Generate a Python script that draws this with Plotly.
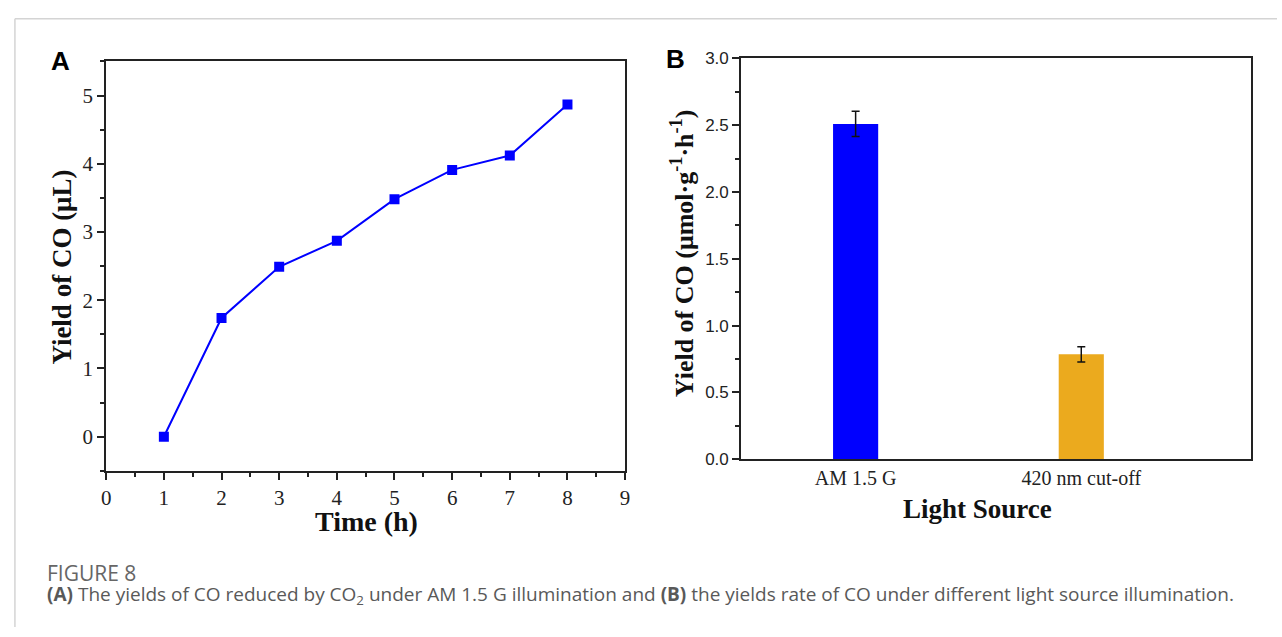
import plotly.graph_objects as go

# Panel A data
time_h = [1, 2, 3, 4, 5, 6, 7, 8]
yield_co = [0.0, 1.74, 2.49, 2.87, 3.48, 3.91, 4.12, 4.87]

# Panel B data
light_sources = ["AM 1.5 G", "420 nm cut-off"]
rate_co = [2.51, 0.785]
rate_err = [0.095, 0.057]
bar_colors = ["#0000FF", "#EBAA1E"]
bar_pos = [0, 1]

W, H = 1282, 637
def px(x):
    return x / W
def py(y):
    return 1 - y / H

fig = go.Figure()

fig.add_trace(go.Scatter(
    x=time_h, y=yield_co, mode="lines+markers",
    line=dict(color="#0000FF", width=2),
    marker=dict(symbol="square", size=10, color="#0000FF"),
    xaxis="x", yaxis="y", showlegend=False))

fig.add_trace(go.Bar(
    x=bar_pos, y=rate_co, width=0.2,
    marker=dict(color=bar_colors, line=dict(width=0)),
    error_y=dict(type="data", array=rate_err, visible=True,
                 color="#111111", thickness=1.5, width=4),
    xaxis="x2", yaxis="y2", showlegend=False))

serif = "Liberation Serif, Times New Roman, serif"
sans = "Liberation Sans, Arial, sans-serif"
axcol = "#222222"

def ann(text, x, y, size, family, color="#111", angle=0, xanchor="center"):
    return dict(text=text, x=px(x), y=py(y), xref="paper", yref="paper",
                xanchor=xanchor, yanchor="middle", textangle=angle,
                showarrow=False, font=dict(family=family, size=size, color=color))

fig.update_layout(
    width=W, height=H,
    margin=dict(l=0, r=0, t=0, b=0),
    paper_bgcolor="white", plot_bgcolor="white",
    xaxis=dict(domain=[px(102), px(625)], range=[0, 9], anchor="y",
               tickmode="array", tickvals=list(range(10)),
               ticks="outside", ticklen=7, tickwidth=2, tickcolor=axcol,
               minor=dict(ticks="outside", ticklen=4, tickwidth=2, tickcolor=axcol, dtick=0.5),
               showline=True, linecolor=axcol, linewidth=2, mirror=True,
               showgrid=False, zeroline=False,
               tickfont=dict(family=serif, size=21, color="#222")),
    yaxis=dict(domain=[py(476), py(54)], range=[-0.5, 5.5], anchor="x",
               tickmode="array", tickvals=[0, 1, 2, 3, 4, 5],
               ticks="outside", ticklen=7, tickwidth=2, tickcolor=axcol,
               minor=dict(ticks="outside", ticklen=4, tickwidth=2, tickcolor=axcol, dtick=0.5),
               showline=True, linecolor=axcol, linewidth=2, mirror=True,
               showgrid=False, zeroline=False,
               tickfont=dict(family=serif, size=21, color="#222")),
    xaxis2=dict(domain=[px(742), px(1256)], range=[-0.507, 1.753], anchor="y2",
                tickmode="array", tickvals=bar_pos, ticktext=light_sources,
                ticks="", showline=True, linecolor=axcol, linewidth=2, mirror=True,
                showgrid=False, zeroline=False,
                tickfont=dict(family=serif, size=20, color="#222")),
    yaxis2=dict(domain=[py(464), py(51)], range=[0, 3.0], anchor="x2",
                tickmode="array", tickvals=[0, 0.5, 1.0, 1.5, 2.0, 2.5, 3.0],
                tickformat=".1f",
                ticks="outside", ticklen=7, tickwidth=2, tickcolor=axcol,
                minor=dict(ticks="outside", ticklen=4, tickwidth=2, tickcolor=axcol, dtick=0.25),
                showline=True, linecolor=axcol, linewidth=2, mirror=True,
                showgrid=False, zeroline=False,
                tickfont=dict(family=sans, size=17, color="#222")),
    shapes=[
        dict(type="line", xref="paper", yref="paper", x0=px(10), x1=1, y0=py(10), y1=py(10),
             line=dict(color="#d4d4d4", width=1.5)),
        dict(type="line", xref="paper", yref="paper", x0=px(10), x1=px(10), y0=0, y1=py(10),
             line=dict(color="#d4d4d4", width=1.5)),
    ],
    annotations=[
        ann("<b>A</b>", 56, 54, 26, sans, "black"),
        ann("<b>B</b>", 676, 52, 26, sans, "black"),
        ann("<b>Time (h)</b>", 364, 528, 28, serif),
        ann("<b>Yield of CO (μL)</b>", 58, 266, 27, serif, angle=-90),
        ann("<b>Light Source</b>", 980, 515, 27, serif),
        ann("<b>Yield of CO (μmol·g<sup>-1</sup>·h<sup>-1</sup>)</b>", 683, 252, 26, serif, angle=-90),
        ann("FIGURE 8", 40, 581, 21, "Open Sans", "#666", xanchor="left"),
        ann("<b>(A)</b> The yields of CO reduced by CO<sub>2</sub> under AM 1.5 G illumination and "
            "<b>(B)</b> the yields rate of CO under different light source illumination.",
            40, 604, 19, "Open Sans", "#595959", xanchor="left"),
    ],
)

fig.write_html("out.html")
